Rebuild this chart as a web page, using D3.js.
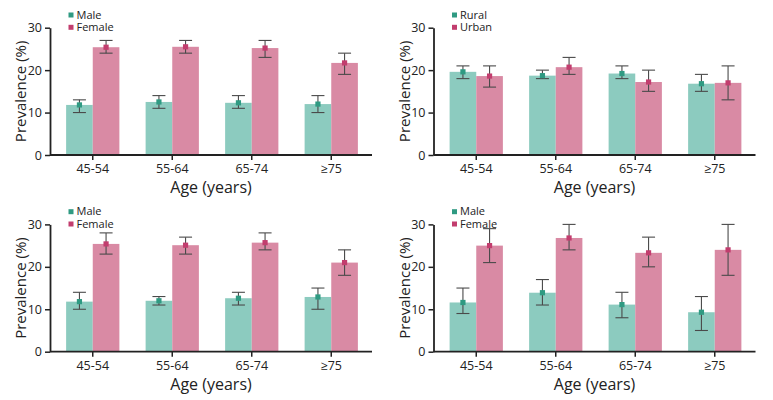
<!DOCTYPE html>
<html><head><meta charset="utf-8">
<script src="https://cdn.jsdelivr.net/npm/d3@7"></script>
<style>
body{margin:0;background:#fff;}
svg{display:block;font-family:"Open Sans",sans-serif;}
</style></head><body>
<svg id="c" width="773" height="400"></svg>
<script>
const categories = ["45-54","55-64","65-74","≥75"];
const yTicks = [0,10,20,30];

// Panel A: sex
const aLabels = ["Male","Female"];
const aVal1 = [11.8,12.5,12.3,12.0];
const aLo1  = [10,11,11,10];
const aHi1  = [13,14,14,14];
const aVal2 = [25.4,25.5,25.2,21.7];
const aLo2  = [24,24,23,19];
const aHi2  = [27,27,27,24];

// Panel B: residence
const bLabels = ["Rural","Urban"];
const bVal1 = [19.6,18.7,19.2,16.8];
const bLo1  = [18,18,18,15];
const bHi1  = [21,20,21,19];
const bVal2 = [18.6,20.7,17.2,17.0];
const bLo2  = [16,19,15,13];
const bHi2  = [21,23,20,21];

// Panel C: sex
const cLabels = ["Male","Female"];
const cVal1 = [11.8,12.0,12.6,12.9];
const cLo1  = [10,11,11,10];
const cHi1  = [14,13,14,15];
const cVal2 = [25.4,25.1,25.7,21.0];
const cLo2  = [23,23,24,18];
const cHi2  = [28,27,28,24];

// Panel D: sex
const dLabels = ["Male","Female"];
const dVal1 = [11.6,13.9,11.1,9.3];
const dLo1  = [9,11,8,5];
const dHi1  = [15,17,14,13];
const dVal2 = [25.0,26.8,23.3,24.0];
const dLo2  = [21,24,20,18];
const dHi2  = [29,30,27,30];

const panels = [
  {ox:0,   oy:0,   labels:aLabels, s:[[aVal1,aLo1,aHi1],[aVal2,aLo2,aHi2]]},
  {ox:383.5,oy:0,  labels:bLabels, s:[[bVal1,bLo1,bHi1],[bVal2,bLo2,bHi2]]},
  {ox:0,   oy:196.7,labels:cLabels, s:[[cVal1,cLo1,cHi1],[cVal2,cLo2,cHi2]]},
  {ox:383.5,oy:196.7,labels:dLabels, s:[[dVal1,dLo1,dHi1],[dVal2,dLo2,dHi2]]}
];

const barCol = ["#8ccbbf","#d98aa4"];
const mkCol  = ["#2f9a82","#c23d6e"];
const svg = d3.select("#c");

panels.forEach(p=>{
  const g = svg.append("g").attr("transform",`translate(${p.ox},${p.oy})`);
  const axX0 = 50, axX1 = 372, yTop = 27.7, yBot = 155;
  const x = d3.scaleBand().domain(categories).range([53,371]).paddingInner(0.33).paddingOuter(0.165);
  const xs = d3.scaleBand().domain([0,1]).range([0,x.bandwidth()]);
  const y = d3.scaleLinear().domain([0,30]).range([yBot,yTop]);

  p.s.forEach((ser,si)=>{
    const [v,lo,hi] = ser;
    const gs = g.append("g");
    categories.forEach((c,i)=>{
      const bx = x(c)+xs(si), bw = xs.bandwidth(), cx = bx+bw/2;
      gs.append("rect").attr("x",bx).attr("y",y(v[i])).attr("width",bw).attr("height",y(0)-y(v[i])).attr("fill",barCol[si]);
    });
  });
  p.s.forEach((ser,si)=>{
    const [v,lo,hi] = ser;
    categories.forEach((c,i)=>{
      const bx = x(c)+xs(si), bw = xs.bandwidth(), cx = bx+bw/2;
      const eg = g.append("g").attr("stroke","#4a4a4a").attr("stroke-width",1.1);
      eg.append("line").attr("x1",cx).attr("x2",cx).attr("y1",y(lo[i])).attr("y2",y(hi[i]));
      eg.append("line").attr("x1",cx-6.5).attr("x2",cx+6.5).attr("y1",y(lo[i])).attr("y2",y(lo[i]));
      eg.append("line").attr("x1",cx-6.5).attr("x2",cx+6.5).attr("y1",y(hi[i])).attr("y2",y(hi[i]));
      g.append("rect").attr("x",cx-2.6).attr("y",y(v[i])-2.6).attr("width",5.2).attr("height",5.2).attr("fill",mkCol[si]);
    });
  });

  // y axis
  const ya = g.append("g").attr("transform",`translate(${axX0},0)`)
    .call(d3.axisLeft(y).tickValues(yTicks).tickSize(5).tickPadding(3).tickSizeOuter(0));
  ya.select(".domain").attr("stroke","#222").attr("stroke-width",1.8);
  ya.selectAll(".tick line").attr("stroke","#222").attr("stroke-width",1.5);
  ya.selectAll(".tick text").attr("font-size",12.5).attr("fill","#222").attr("font-family","Open Sans");
  // x axis
  const xa = g.append("g").attr("transform",`translate(0,${yBot})`)
    .call(d3.axisBottom(x).tickSize(5).tickPadding(4).tickSizeOuter(0));
  xa.select(".domain").attr("d",`M${axX0},0H${axX1}`).attr("stroke","#222").attr("stroke-width",1.8);
  xa.selectAll(".tick line").attr("stroke","#222").attr("stroke-width",1.5);
  xa.selectAll(".tick text").attr("font-size",12.5).attr("fill","#222").attr("font-family","Open Sans");

  g.append("text").attr("x",211).attr("y",193).attr("text-anchor","middle")
    .attr("font-size",16).attr("fill","#222").text("Age (years)");
  g.append("text").attr("transform",`translate(26,${(yTop+yBot)/2}) rotate(-90)`).attr("text-anchor","middle")
    .attr("font-size",15).attr("fill","#222").text("Prevalence (%)");

  // legend
  p.labels.forEach((l,i)=>{
    const ly = 15 + i*12.3;
    g.append("rect").attr("x",68.5).attr("y",ly-2.5).attr("width",5).attr("height",5).attr("fill",mkCol[i]);
    g.append("text").attr("x",76.5).attr("y",ly+3.8).attr("font-size",11).attr("fill","#222").text(l);
  });
});
</script>
</body></html>
